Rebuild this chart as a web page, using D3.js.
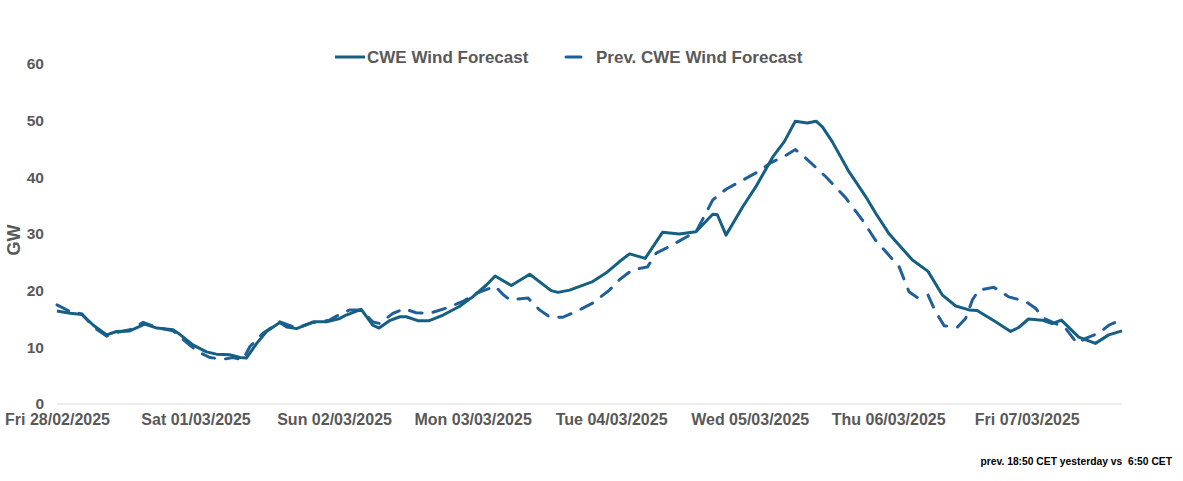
<!DOCTYPE html>
<html>
<head>
<meta charset="utf-8">
<script src="https://cdn.jsdelivr.net/npm/d3@7"></script>
<style>
  body { margin: 0; background: #fff; }
  svg { display: block; }
  .tick text { fill: #595959; font-weight: bold; }
</style>
</head>
<body>
<script>
var width = 1183, height = 481;

// Day labels (one every 24 h)
var dayLabels = ["Fri 28/02/2025", "Sat 01/03/2025", "Sun 02/03/2025", "Mon 03/03/2025",
                 "Tue 04/03/2025", "Wed 05/03/2025", "Thu 06/03/2025", "Fri 07/03/2025"];
var dayHours = [0, 24, 48, 72, 96, 120, 144, 168];
var yTicks = [0, 10, 20, 30, 40, 50, 60];

// CWE Wind Forecast (hours from Fri 28/02 00:00, GW)
var fcHours = [0, 2.3, 4.3, 6.3, 8.6, 10.3, 12.6, 15.2, 17.3, 20.1, 21, 23.6, 25.9, 27.6, 29.9, 31.7, 32.8,
  34.6, 36.3, 38.6, 39.8, 41.5, 44.4, 46.7, 49, 50.1, 52.7, 54.7, 55.8, 57.6, 59.4, 60.5, 62.5, 64.5,
  66.9, 69.7, 72, 74.4, 75.9, 78.7, 81.9, 85.6, 86.8, 88.8, 92.8, 95.1, 97.4, 99.2, 101.9, 104.9, 107.8,
  110.7, 113.6, 114.4, 115.9, 118.8, 121.1, 124, 126, 127.9, 130, 131.5, 132.6, 134.3, 137.2, 140.1,
  141.8, 144.1, 148.2, 150.9, 153.4, 155.7, 158, 159.4, 162.6, 165.2, 166.6, 168.3, 170.7, 172.4, 174,
  177, 179.9, 182.2, 184.5];
var fcValues = [16.4, 16.0, 15.8, 13.9, 12.2, 12.8, 12.9, 14.1, 13.4, 13.1, 12.5, 10.4, 9.2, 8.8, 8.7, 8.2, 8.1,
  10.7, 12.8, 14.4, 13.6, 13.3, 14.5, 14.5, 15.1, 15.7, 16.7, 13.9, 13.4, 14.7, 15.4, 15.4, 14.7, 14.7,
  15.7, 17.2, 18.9, 21.0, 22.6, 20.9, 22.9, 20.0, 19.7, 20.1, 21.6, 23.1, 25.1, 26.5, 25.7, 30.3, 30.0,
  30.4, 33.5, 33.4, 29.8, 34.8, 38.4, 43.6, 46.3, 49.9, 49.6, 49.9, 48.9, 46.3, 41.0, 36.6,
  33.7, 30.1, 25.4, 23.4, 19.2, 17.3, 16.6, 16.5, 14.5, 12.8, 13.5, 15.0, 14.8, 14.2, 14.8,
  11.8, 10.7, 12.2, 12.9];

// Prev. CWE Wind Forecast
var prevHours = [0, 2.3, 4.3, 6.3, 8.6, 10.3, 12.6, 14.9, 17.3, 20.1, 23, 24.5, 26.5, 28.8, 30.5, 32.2, 33.4,
  35.7, 38.6, 41.5, 44.4, 47.2, 48.4, 50.7, 52.7, 54.7, 55.9, 58.2, 60.2, 62.2, 64.5, 67.4, 70.3, 72.6,
  75.9, 77.2, 78.4, 81.6, 83.6, 85.3, 87.6, 89.9, 92.8, 95.7, 97.4, 99.7, 102.3, 103.8, 106.1, 110.7,
  111.8, 113.6, 115.9, 118.8, 121.1, 123.7, 126.3, 127.9, 129.7, 133.2, 136.7, 139.5, 141.8, 143.9,
  145.9, 147.6, 149, 150.9, 152.2, 153.7, 156, 157.4, 158.6, 159.7, 162.3, 164.9, 167.8, 169.5, 171,
  173, 174.7, 176.7, 178.2, 180.5, 182.2, 184.2];
var prevValues = [17.5, 16.3, 15.9, 13.6, 12.0, 12.6, 13.1, 14.4, 13.5, 12.9, 10.4, 9.2, 8.2, 7.9, 8.2, 7.8, 10.1,
  12.5, 14.5, 13.4, 14.4, 14.8, 15.5, 16.6, 16.6, 14.5, 14.2, 16.0, 16.8, 16.1, 16.0, 16.9, 18.1, 19.5,
  20.8, 19.4, 18.4, 18.7, 16.6, 15.4, 15.3, 16.3, 17.8, 20.1, 21.9, 23.7, 24.2, 26.6, 27.8, 30.4,
  32.5, 36.0, 37.9, 39.5, 40.8, 42.6, 43.9, 44.9, 43.4, 40.1, 36.3, 32.5, 28.9, 26.5,
  24.2, 19.8, 18.8, 19.2, 16.3, 13.8, 13.6, 15.1, 18.4, 20.1, 20.6, 18.9, 18.1, 16.9, 15.1,
  14.2, 13.4, 10.7, 11.6, 12.5, 13.9, 14.8];

var fcData = fcHours.map(function(h, i) { return { h: h, v: fcValues[i] }; });
var prevData = prevHours.map(function(h, i) { return { h: h, v: prevValues[i] }; });

var xScale = d3.scaleLinear().domain([0, 184.5]).range([57, 1122]);
var yScale = d3.scaleLinear().domain([0, 60]).range([404, 64]);

var svg = d3.select('body').append('svg')
    .attr('width', width)
    .attr('height', height)
    .style('font-family', 'Liberation Sans, Arial, sans-serif');

// Baseline at 0
svg.append('line')
    .attr('x1', xScale(0)).attr('x2', xScale(184.5))
    .attr('y1', yScale(0)).attr('y2', yScale(0))
    .style('stroke', '#d9d9d9').style('stroke-width', 1);

// Y axis
var yAxis = svg.append('g')
    .attr('transform', 'translate(44,0)')
    .call(d3.axisLeft(yScale).tickValues(yTicks).tickSize(0).tickPadding(0));
yAxis.select('.domain').remove();
yAxis.selectAll('text').style('font-size', '15.5px');

// X axis
var xAxis = svg.append('g')
    .attr('transform', 'translate(0,' + yScale(0) + ')')
    .call(d3.axisBottom(xScale).tickValues(dayHours).tickSize(0).tickPadding(10)
        .tickFormat(function(d, i) { return dayLabels[i]; }));
xAxis.select('.domain').remove();
xAxis.selectAll('text')
    .style('font-size', '16px')
    .style('font-family', 'Liberation Sans Narrow, Arial Narrow, sans-serif');

// Y axis title
svg.append('text')
    .attr('transform', 'translate(20,240) rotate(-90)')
    .attr('text-anchor', 'middle')
    .style('font-size', '18px').style('font-weight', 'bold').style('fill', '#595959')
    .text('GW');

var line = d3.line()
    .x(function(d) { return xScale(d.h); })
    .y(function(d) { return yScale(d.v); });

// Prev forecast (dashed)
svg.append('path')
    .datum(prevData)
    .attr('d', line)
    .style('fill', 'none')
    .style('stroke', '#215f9a')
    .style('stroke-width', 3)
    .style('stroke-linecap', 'round')
    .style('stroke-dasharray', '13,11');

// Current forecast (solid)
svg.append('path')
    .datum(fcData)
    .attr('d', line)
    .style('fill', 'none')
    .style('stroke', '#156082')
    .style('stroke-width', 3)
    .style('stroke-linejoin', 'round');

// Legend
var legend = svg.append('g').style('font-size', '17px').style('font-weight', 'bold').style('fill', '#595959');
legend.append('line').attr('x1', 335).attr('x2', 365).attr('y1', 57).attr('y2', 57)
    .style('stroke', '#156082').style('stroke-width', 3);
legend.append('text').attr('x', 367).attr('y', 63).text('CWE Wind Forecast');
legend.append('line').attr('x1', 566).attr('x2', 581).attr('y1', 57).attr('y2', 57)
    .style('stroke', '#215f9a').style('stroke-width', 3).style('stroke-linecap', 'round');
legend.append('text').attr('x', 596).attr('y', 63).text('Prev. CWE Wind Forecast');

// Note
svg.append('text')
    .attr('x', 1172).attr('y', 465)
    .attr('text-anchor', 'end')
    .style('font-size', '10.3px').style('font-weight', 'bold')
    .style('font-family', 'Liberation Sans Narrow, Arial Narrow, sans-serif')
    .style('fill', '#000')
    .style('white-space', 'pre')
    .text('prev. 18:50 CET yesterday vs  6:50 CET');
</script>
</body>
</html>
